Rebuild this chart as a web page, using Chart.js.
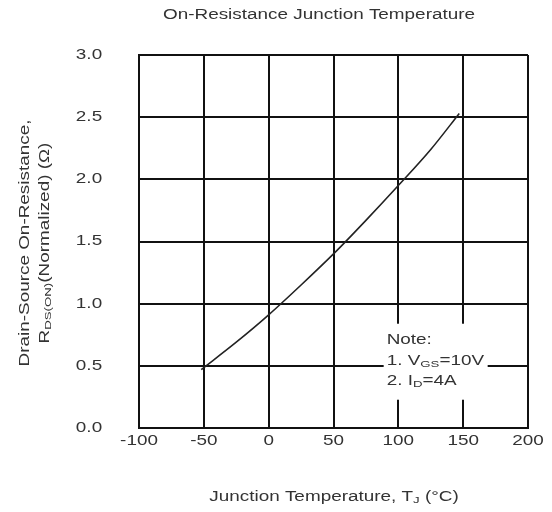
<!DOCTYPE html>
<html>
<head>
<meta charset="utf-8">
<script src="https://cdn.jsdelivr.net/npm/chart.js@4"></script>
<style>
  body { margin: 0; background: #fff; }
  #wrap { width: 552px; height: 512px; }
</style>
</head>
<body>
<div id="wrap"><canvas id="myChart" width="552" height="512"></canvas></div>
<script>
// values
let tempC = [-52, -25, 0, 25, 50, 75, 100, 125, 147];
let rdsNorm = [0.47, 0.69, 0.91, 1.15, 1.40, 1.67, 1.95, 2.24, 2.53];
let xTicks = [-100, -50, 0, 50, 100, 150, 200];
let yTicks = [0.0, 0.5, 1.0, 1.5, 2.0, 2.5, 3.0];

const FONT = '"Liberation Sans", Arial, sans-serif';
const TXT = '#333';
const SIZE = 14;
const STRETCH = 1.35;   // the scanned lettering is wide

function partsWidth(ctx, parts, size) {
    let w = 0;
    parts.forEach(function (p) {
        ctx.font = (p[1] ? size * 0.7 : size) + 'px ' + FONT;
        w += ctx.measureText(p[0]).width;
    });
    return w;
}

// draws text pieces (some as subscripts), stretched wide
// align: 0 = left, 0.5 = center, 1 = right
function wideText(ctx, parts, x, y, align) {
    ctx.save();
    ctx.translate(x, y);
    ctx.scale(STRETCH, 1);
    let cx = -partsWidth(ctx, parts, SIZE) * align;
    parts.forEach(function (p) {
        ctx.font = (p[1] ? SIZE * 0.7 : SIZE) + 'px ' + FONT;
        ctx.fillText(p[0], cx, p[1] ? SIZE * 0.25 : 0);
        cx += ctx.measureText(p[0]).width;
    });
    ctx.restore();
}

const labels = {
    id: 'labels',
    afterDraw(chart) {
        const ctx = chart.ctx;
        const xs = chart.scales.x, ys = chart.scales.y;
        ctx.save();
        ctx.fillStyle = TXT;
        ctx.textBaseline = 'middle';
        ctx.textAlign = 'left';

        // tick labels
        xTicks.forEach(function (v) {
            wideText(ctx, [[String(v)]], xs.getPixelForValue(v), 441, 0.5);
        });
        yTicks.forEach(function (v) {
            wideText(ctx, [[v.toFixed(1)]], 89, ys.getPixelForValue(v), 0.5);
        });

        // title
        wideText(ctx, [['On-Resistance Junction Temperature']], 319, 15, 0.5);

        // x axis title
        wideText(ctx, [['Junction Temperature, T'], ['J', true], [' (°C)']], 334, 497, 0.5);

        // y axis title, two rotated lines
        ctx.save();
        ctx.translate(25, 243);
        ctx.rotate(-Math.PI / 2);
        wideText(ctx, [['Drain-Source On-Resistance,']], 0, 0, 0.5);
        ctx.restore();
        ctx.save();
        ctx.translate(45, 243);
        ctx.rotate(-Math.PI / 2);
        wideText(ctx, [['R'], ['DS(ON)', true], ['(Normalized) (Ω)']], 0, 0, 0.5);
        ctx.restore();

        // note box
        const nx = xs.getPixelForValue(91);
        const ny = ys.getPixelForValue(0.71);
        ctx.fillStyle = '#fff';
        ctx.fillRect(nx - 3, ny - 16, 104, 76);
        ctx.fillStyle = TXT;
        wideText(ctx, [['Note:']], nx, ny, 0);
        wideText(ctx, [['1. V'], ['GS', true], ['=10V']], nx, ny + 21, 0);
        wideText(ctx, [['2. I'], ['D', true], ['=4A']], nx, ny + 41, 0);
        ctx.restore();
    }
};

var ctx = document.getElementById('myChart');
var myChart = new Chart(ctx, {
    type: 'line',
    data: {
        datasets: [{
            data: tempC.map(function (t, i) { return { x: t, y: rdsNorm[i] }; }),
            borderColor: '#222',
            borderWidth: 1.6,
            pointRadius: 0,
            cubicInterpolationMode: 'monotone',
            fill: false
        }]
    },
    options: {
        responsive: false,
        animation: false,
        layout: { padding: { top: 55, right: 24 } },
        plugins: {
            legend: { display: false },
            title: { display: false },
            tooltip: { enabled: false }
        },
        scales: {
            x: {
                type: 'linear',
                min: -100,
                max: 200,
                afterBuildTicks: function (s) { s.ticks = xTicks.map(function (v) { return { value: v }; }); },
                afterFit: function (s) { s.height = 84; },
                grid: { color: '#111', lineWidth: 2, drawTicks: false },
                border: { color: '#111', width: 2 },
                ticks: { display: false }
            },
            y: {
                min: 0,
                max: 3,
                afterBuildTicks: function (s) { s.ticks = yTicks.map(function (v) { return { value: v }; }); },
                afterFit: function (s) { s.width = 139; },
                grid: { color: '#111', lineWidth: 2, drawTicks: false },
                border: { color: '#111', width: 2 },
                ticks: { display: false }
            }
        }
    },
    plugins: [labels]
});
</script>
</body>
</html>
